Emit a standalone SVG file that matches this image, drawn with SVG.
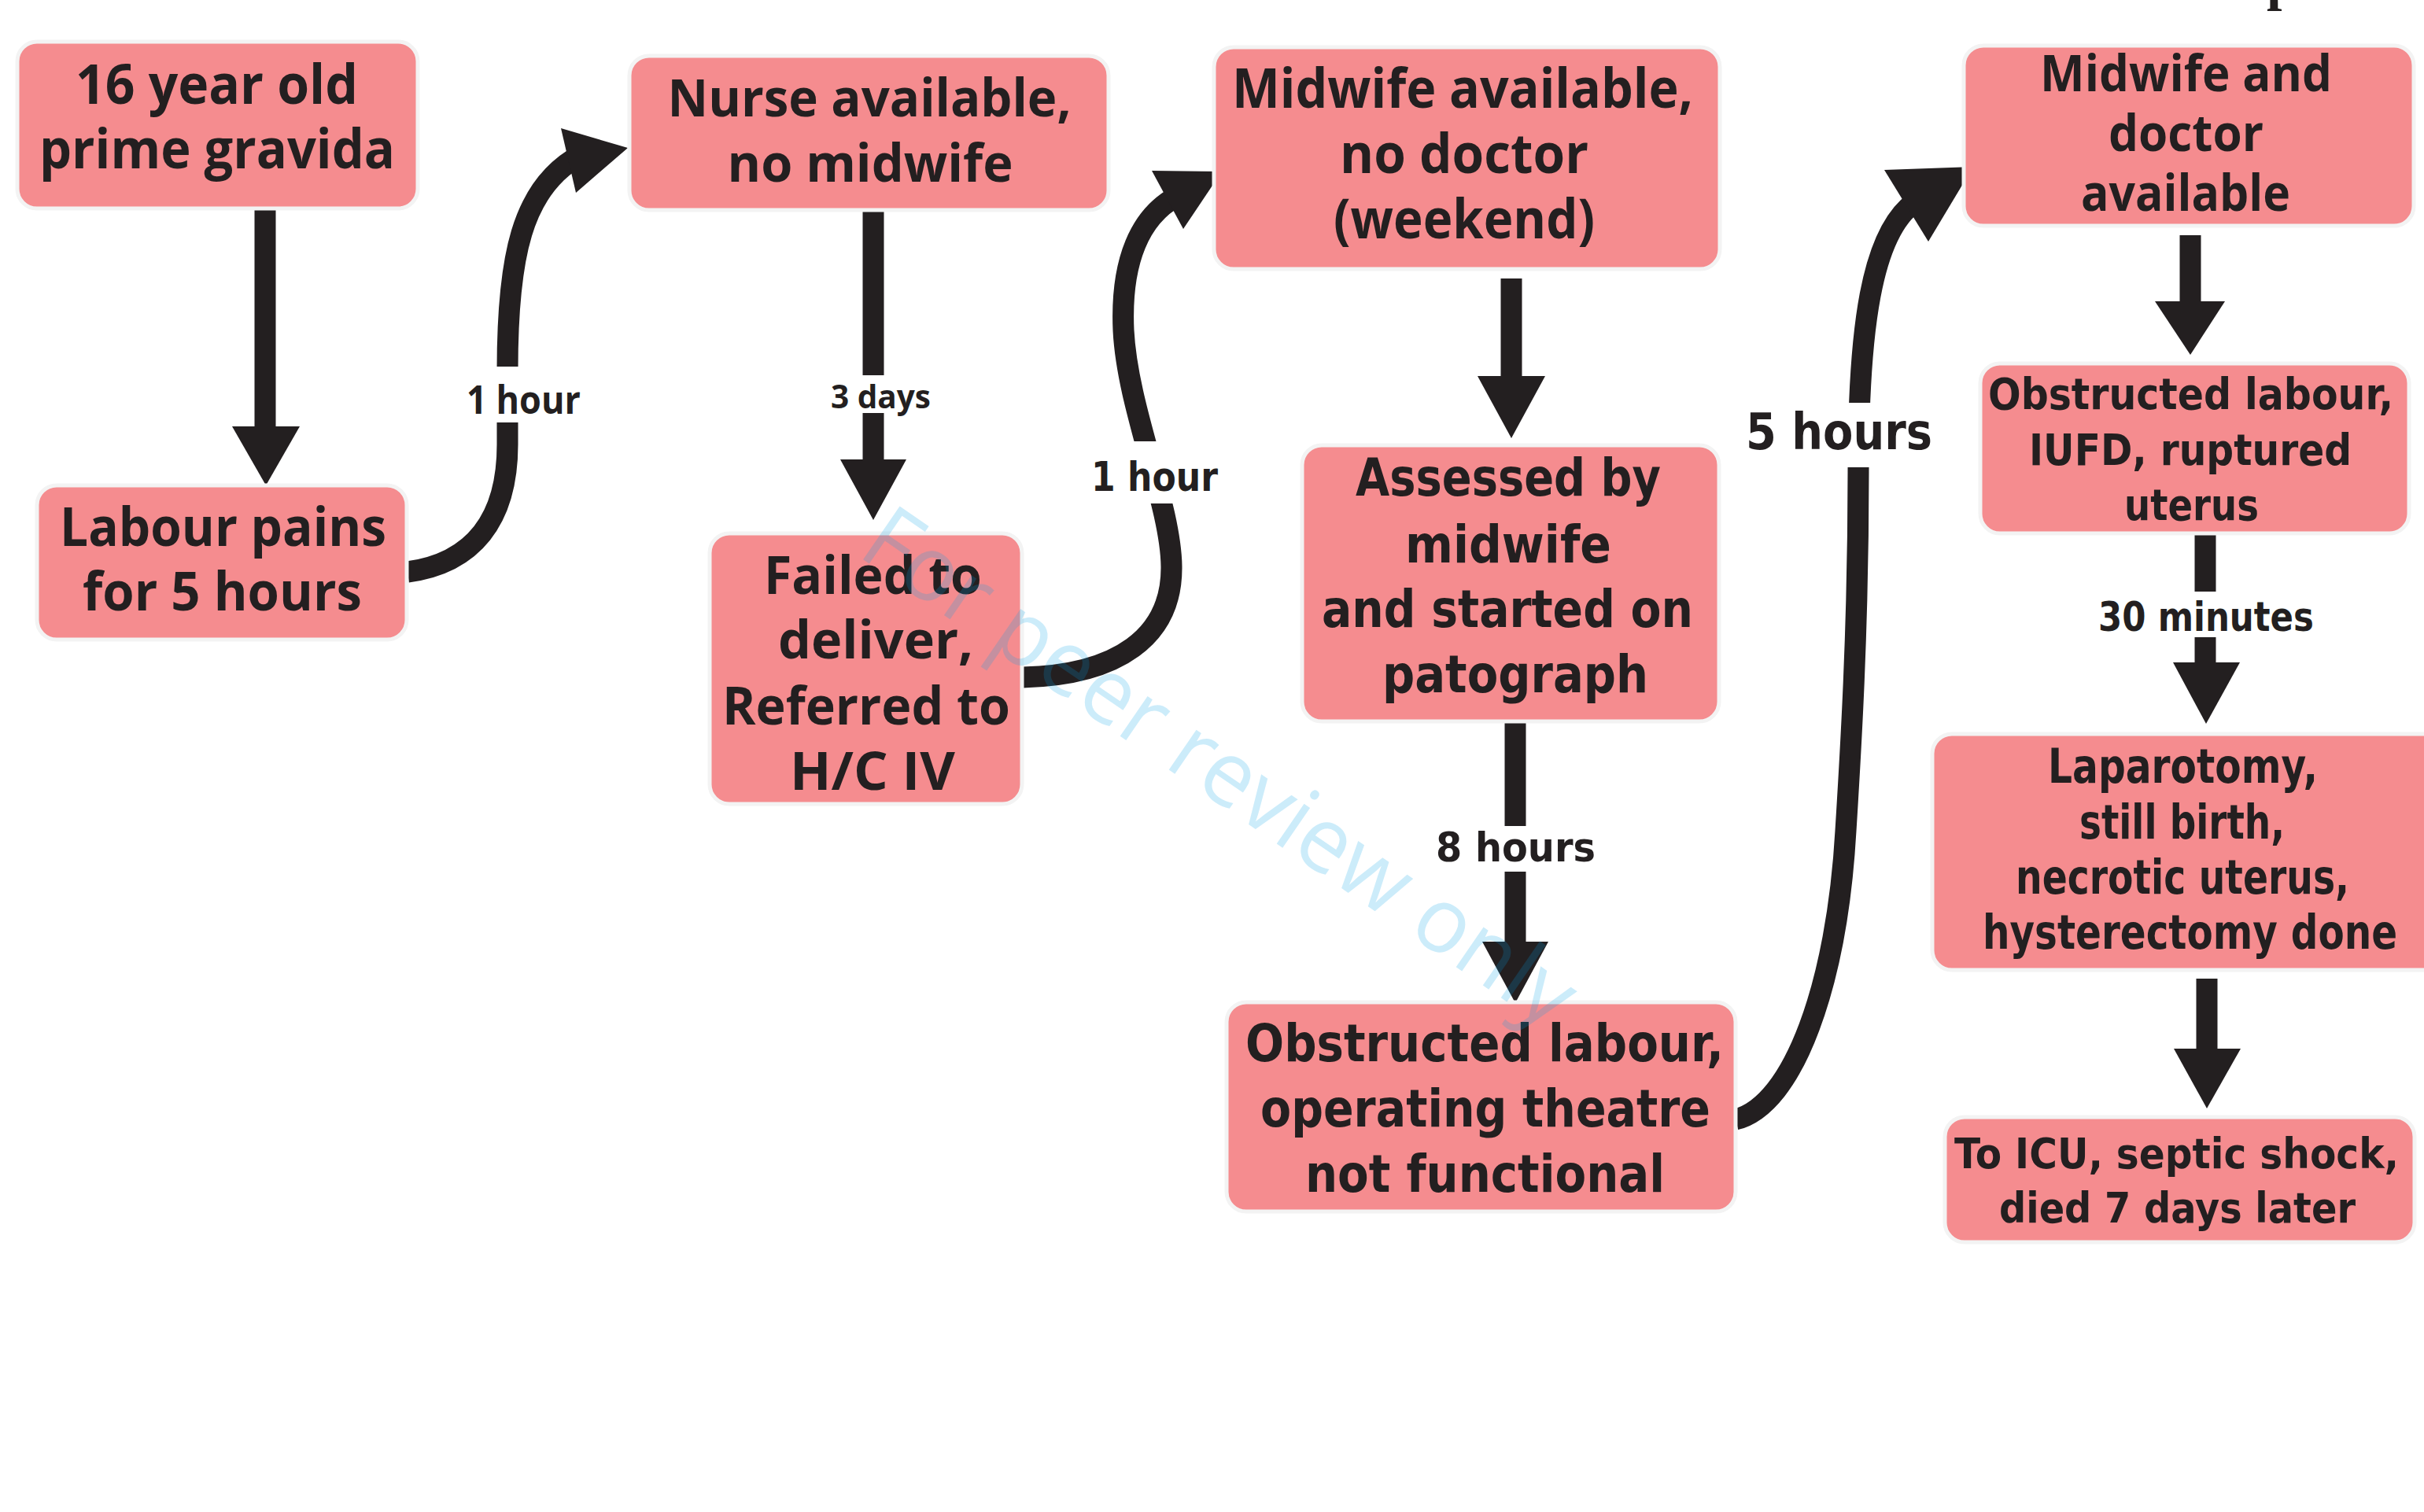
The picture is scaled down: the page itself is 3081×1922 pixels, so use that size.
<svg xmlns="http://www.w3.org/2000/svg" width="3081" height="1922" viewBox="0 0 3081 1922">
  <style>
    .box { fill: #f58c8f; stroke: #f3f3f3; stroke-width: 5; }
    .t { font-family: "Open Sans", "Noto Sans", sans-serif; font-weight: 700; fill: #231f20; text-anchor: middle; }
    .w { font-family: "DejaVu Sans", Verdana, sans-serif; font-weight: 700; fill: #231f20; text-anchor: middle; }
    .ln { fill: none; stroke: #231f20; stroke-width: 27; stroke-linecap: butt; }
    .hd { fill: #231f20; }
    .gap { fill: #ffffff; }
    .mark { font-family: "Open Sans", "Noto Sans", sans-serif; font-weight: 400; fill: #00a0e6; fill-opacity: 0.2; }
  </style>
  <rect width="3081" height="1922" fill="#ffffff"/>

  <!-- fragment of heading above the canvas -->
  <text x="2881" y="-1" font-family="Liberation Serif, serif" font-weight="700" font-size="70" fill="#231f20">p</text>

  <!-- connectors -->
  <g id="connectors">
    <!-- straight arrows -->
    <path class="ln" d="M337,265 V545" stroke-width="26"/>
    <polygon class="hd" points="295,542 381,542 338,617"/>

    <path class="ln" d="M1110,268 V477"/>
    <path class="ln" d="M1110,525 V587"/>
    <polygon class="hd" points="1068,584 1152,584 1110,661"/>

    <path class="ln" d="M1921,354 V481" stroke-width="26"/>
    <polygon class="hd" points="1878,478 1964,478 1921,557"/>

    <path class="ln" d="M1926,918 V1050" stroke-width="30"/>
    <path class="ln" d="M1926,1108 V1200" stroke-width="30"/>
    <polygon class="hd" points="1884,1197 1968,1197 1926,1275"/>

    <path class="ln" d="M2784,299 V386" stroke-width="26"/>
    <polygon class="hd" points="2739,383 2828,383 2784,451"/>

    <path class="ln" d="M2803,680 V752" stroke-width="26"/>
    <path class="ln" d="M2803,810 V845" stroke-width="26"/>
    <polygon class="hd" points="2762,842 2847,842 2804,920"/>

    <path class="ln" d="M2805,1244 V1336" stroke-width="33"/>
    <polygon class="hd" points="2763,1333 2848,1333 2805,1409"/>

    <!-- curved arrows -->
    <path class="ln" d="M518,727 C600,716 645,662 645,565 L645,470 C645,330 662,238 738,197"/>
    <polygon class="hd" points="713,163 798,188 732,245"/>

    <path class="ln" d="M1300,861 C1420,858 1490,810 1489,720 C1488,640 1433,520 1428,420 C1424,330 1450,275 1495,250"/>
    <polygon class="hd" points="1464,217 1553,218 1504,291"/>

    <path class="ln" d="M2206,1423 C2280,1405 2335,1250 2346,1056 C2352,960 2362,800 2362,600 C2362,420 2378,295 2435,256"/>
    <polygon class="hd" points="2395,216 2508,212 2451,307"/>

    <!-- breaks in the curved lines for their labels -->
    <rect class="gap" x="612" y="466" width="66" height="71"/>
    <rect class="gap" x="1436" y="561" width="72" height="79"/>
    <rect class="gap" x="2328" y="512" width="72" height="82"/>
  </g>

  <!-- connector labels -->
  <g id="labels">
    <text class="t" x="665.5" y="526" font-size="50" textLength="145" lengthAdjust="spacingAndGlyphs">1 hour</text>
    <text class="t" x="1119.5" y="519" font-size="41" textLength="127" lengthAdjust="spacingAndGlyphs">3 days</text>
    <text class="w" x="1467.5" y="624" font-size="52" textLength="161" lengthAdjust="spacingAndGlyphs">1 hour</text>
    <text class="w" x="1926.5" y="1095" font-size="52" textLength="203" lengthAdjust="spacingAndGlyphs">8 hours</text>
    <text class="w" x="2337.5" y="571" font-size="64" textLength="237" lengthAdjust="spacingAndGlyphs">5 hours</text>
    <text class="w" x="2804" y="802" font-size="51" textLength="274" lengthAdjust="spacingAndGlyphs">30 minutes</text>
  </g>

  <!-- nodes -->
  <g id="node-prime-gravida">
    <rect class="box" x="22" y="53" width="509" height="212" rx="25"/>
    <text class="t" font-size="70"><tspan x="275.5" y="132" textLength="359" lengthAdjust="spacingAndGlyphs">16 year old</tspan><tspan x="276" y="214" textLength="452" lengthAdjust="spacingAndGlyphs">prime gravida</tspan></text>
  </g>

  <g id="node-labour-pains">
    <rect class="box" x="47" y="617" width="470" height="196" rx="25"/>
    <text class="t" font-size="68"><tspan x="283.5" y="694" textLength="415" lengthAdjust="spacingAndGlyphs">Labour pains</tspan><tspan x="282.5" y="776" textLength="355" lengthAdjust="spacingAndGlyphs">for 5 hours</tspan></text>
  </g>

  <g id="node-nurse">
    <rect class="box" x="800" y="71" width="609" height="196" rx="25"/>
    <text class="t" font-size="67"><tspan x="1105" y="148" textLength="513" lengthAdjust="spacingAndGlyphs">Nurse available,</tspan><tspan x="1106" y="231" textLength="363" lengthAdjust="spacingAndGlyphs">no midwife</tspan></text>
  </g>

  <g id="node-failed">
    <rect class="box" x="902" y="678" width="397" height="344" rx="25"/>
    <text class="t" font-size="66"><tspan x="1109.5" y="755" textLength="277" lengthAdjust="spacingAndGlyphs">Failed to</tspan><tspan x="1113" y="837" textLength="248" lengthAdjust="spacingAndGlyphs">deliver,</tspan><tspan x="1101" y="921" textLength="366" lengthAdjust="spacingAndGlyphs">Referred to</tspan><tspan x="1109" y="1004" textLength="210" lengthAdjust="spacingAndGlyphs">H/C IV</tspan></text>
  </g>

  <g id="node-midwife-weekend">
    <rect class="box" x="1543" y="60" width="643" height="282" rx="25"/>
    <text class="t" font-size="70"><tspan x="1859" y="137" textLength="586" lengthAdjust="spacingAndGlyphs">Midwife available,</tspan><tspan x="1861" y="220" textLength="316" lengthAdjust="spacingAndGlyphs">no doctor</tspan><tspan x="1861" y="303" textLength="332" lengthAdjust="spacingAndGlyphs">(weekend)</tspan></text>
  </g>

  <g id="node-assessed">
    <rect class="box" x="1655" y="566" width="530" height="351" rx="25"/>
    <text class="w" font-size="66"><tspan x="1917" y="630" textLength="388" lengthAdjust="spacingAndGlyphs">Assessed by</tspan><tspan x="1917" y="715" textLength="262" lengthAdjust="spacingAndGlyphs">midwife</tspan><tspan x="1916" y="797" textLength="472" lengthAdjust="spacingAndGlyphs">and started on</tspan><tspan x="1926" y="880" textLength="338" lengthAdjust="spacingAndGlyphs">patograph</tspan></text>
  </g>

  <g id="node-theatre">
    <rect class="box" x="1559" y="1274" width="647" height="266" rx="25"/>
    <text class="w" font-size="66"><tspan x="1887" y="1349" textLength="608" lengthAdjust="spacingAndGlyphs">Obstructed labour,</tspan><tspan x="1888" y="1432" textLength="572" lengthAdjust="spacingAndGlyphs">operating theatre</tspan><tspan x="1887.5" y="1515" textLength="457" lengthAdjust="spacingAndGlyphs">not functional</tspan></text>
  </g>

  <g id="node-midwife-doctor">
    <rect class="box" x="2496" y="58" width="572" height="229" rx="25"/>
    <text class="t" font-size="64"><tspan x="2778.5" y="116" textLength="371" lengthAdjust="spacingAndGlyphs">Midwife and</tspan><tspan x="2778.5" y="192" textLength="197" lengthAdjust="spacingAndGlyphs">doctor</tspan><tspan x="2778" y="268" textLength="266" lengthAdjust="spacingAndGlyphs">available</tspan></text>
  </g>

  <g id="node-ruptured">
    <rect class="box" x="2517" y="462" width="545" height="216" rx="25"/>
    <text class="w" font-size="56"><tspan x="2784.5" y="520" textLength="515" lengthAdjust="spacingAndGlyphs">Obstructed labour,</tspan><tspan x="2784" y="591" textLength="410" lengthAdjust="spacingAndGlyphs">IUFD, ruptured</tspan><tspan x="2785.5" y="661" textLength="171" lengthAdjust="spacingAndGlyphs">uterus</tspan></text>
  </g>

  <g id="node-laparotomy">
    <rect class="box" x="2456" y="933" width="660" height="300" rx="25"/>
    <text class="w" font-size="60"><tspan x="2774.5" y="995" textLength="343" lengthAdjust="spacingAndGlyphs">Laparotomy,</tspan><tspan x="2773.5" y="1066" textLength="261" lengthAdjust="spacingAndGlyphs">still birth,</tspan><tspan x="2774" y="1136" textLength="424" lengthAdjust="spacingAndGlyphs">necrotic uterus,</tspan><tspan x="2783.5" y="1206" textLength="527" lengthAdjust="spacingAndGlyphs">hysterectomy done</tspan></text>
  </g>

  <g id="node-icu">
    <rect class="box" x="2472" y="1420" width="597" height="159" rx="25"/>
    <text class="w" font-size="53"><tspan x="2766.5" y="1485" textLength="565" lengthAdjust="spacingAndGlyphs">To ICU, septic shock,</tspan><tspan x="2767.5" y="1554" textLength="453" lengthAdjust="spacingAndGlyphs">died 7 days later</tspan></text>
  </g>

  <!-- review watermark -->
  <text class="mark" x="0" y="0" font-size="115" textLength="1070" lengthAdjust="spacingAndGlyphs" transform="translate(1088,705) rotate(34.5)">For peer review only</text>
</svg>
